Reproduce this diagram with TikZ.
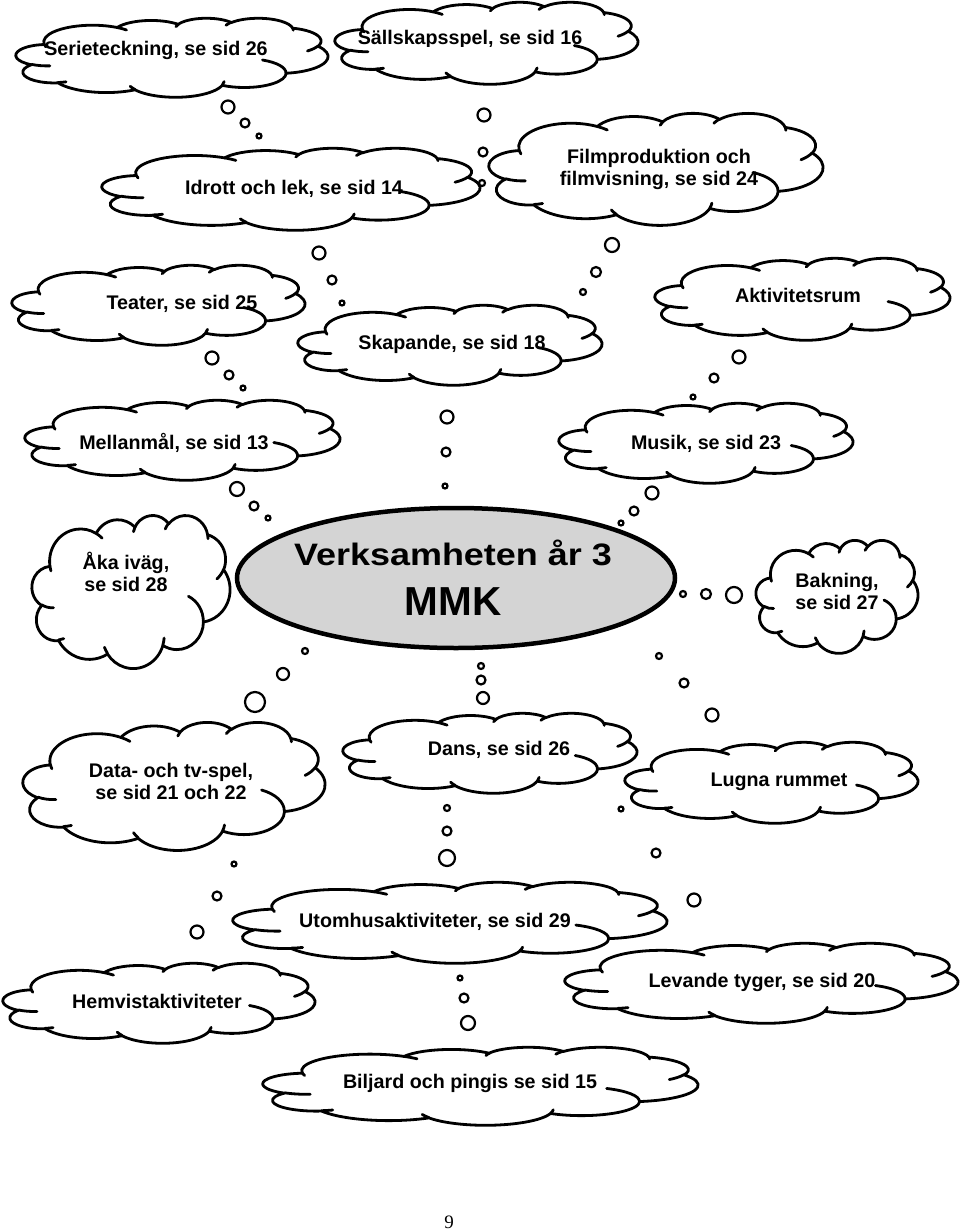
\documentclass[tikz,border=0pt]{standalone}
\usepackage{fontspec}
\setmainfont{Liberation Sans}
\newfontfamily\pagefont{Liberation Serif}
\usetikzlibrary{shapes.geometric}
\definecolor{ellfill}{RGB}{212,212,212}
% prepare an OOXML-style arc (visual angles -> parametric angles)
\newcommand\prep[5]{%
  \pgfmathsetmacro\tmpS{atan2(#2*sin(#4),#3*cos(#4))}%
  \pgfmathsetmacro\tmpE{atan2(#2*sin(#4+#5),#3*cos(#4+#5))}%
  \pgfmathsetmacro\tmpD{mod(\tmpE-\tmpS+720,360)}%
  \xdef#1{arc[x radius=#2, y radius=#3, start angle=\tmpS, delta angle=\tmpD]}}
\prep\CLa{6.753}{9.19}{-190.4875}{123.7805}
\prep\CLb{5.333}{7.267}{-144.1024}{89.9452}
\prep\CLc{4.365}{5.945}{-145.8079}{99.7230}
\prep\CLd{4.857}{6.595}{-130.9861}{117.2417}
\prep\CLe{5.333}{7.273}{-78.7089}{109.0269}
\prep\CLf{6.775}{9.22}{-46.2673}{130.2690}
\prep\CLg{5.785}{7.867}{0.6250}{114.0333}
\prep\CLh{6.752}{9.215}{22.4516}{115.1726}
\prep\CLi{7.72}{10.543}{66.2426}{75.7110}
\prep\CLj{4.36}{5.918}{-274.9421}{146.7356}
\prep\CLk{4.345}{5.945}{-246.8285}{152.5189}
\prep\TKa{4.345}{5.945}{86.742}{26.4295}
\prep\TKb{4.36}{5.918}{73.6105}{11.4475}
\prep\TKc{6.752}{9.215}{137.6242}{14.0811}
\prep\TKd{6.752}{9.215}{6.4533}{15.9984}
\prep\TKe{5.785}{7.867}{-70.2924}{70.9174}
\prep\TKf{5.333}{7.273}{30.318}{27.7515}
\prep\TKg{4.857}{6.595}{-13.7443}{14.8589}
\prep\TKh{4.857}{6.595}{-149.1815}{18.1954}
\prep\TKi{4.365}{5.945}{-163.4943}{17.6864}
\prep\TKj{6.753}{9.19}{-66.707}{12.3194}
\prep\TKk{6.753}{9.19}{157.6544}{11.8582}
% Word-style cloud: left, top, width, height (pixels)
\newcommand\wcloud[4]{%
  \pgfmathsetmacro\cwx{#3/43.2}\pgfmathsetmacro\cwy{#4/43.2}%
  \begin{scope}[shift={(#1,#2)},x=\cwx pt,y=-\cwy pt]
    \draw[cloudline,fill=white] (3.9,14.37) \CLa \CLb \CLc \CLd \CLe \CLf \CLg \CLh \CLi \CLj \CLk -- cycle;
    \draw[cloudline] (4.693,26.177) \TKa (6.928,34.899) \TKb (16.478,39.09) \TKc
      (28.827,34.751) \TKd (34.129,22.954) \TKe (41.798,15.354) \TKf
      (38.324,5.426) \TKg (29.078,3.952) \TKh (22.141,4.72) \TKi
      (14,5.192) \TKj (4.127,15.789) \TKk;
  \end{scope}}
\begin{document}
\begin{tikzpicture}[x=1pt,y=-1pt,
  cloudline/.style={line width=2.8pt,line cap=round,line join=round},
  bub/.style={circle,draw,line width=2.2pt,inner sep=0pt,outer sep=0pt,fill=white},
  lbl/.style={font=\fontsize{19.7}{22}\selectfont\bfseries,align=center,inner sep=0pt}]
\fill[white] (0,0) rectangle (960,1232);
\useasboundingbox (0,0) rectangle (960,1232);

% clouds
\wcloud{16}{18}{312}{79}
\wcloud{335}{2}{303}{82}
\wcloud{102}{148}{378}{82}
\wcloud{489}{113}{334}{112}
\wcloud{12}{265}{293}{80}
\wcloud{298}{305}{304}{80}
\wcloud{655}{258}{295}{82}
\wcloud{25}{400}{315}{80}
\wcloud{559}{403}{294}{80}
\wcloud{32}{515}{198}{153}
\wcloud{756}{540}{162}{113}
\wcloud{23}{722}{302}{128}
\wcloud{343}{713}{294}{80}
\wcloud{625}{742}{293}{81}
\wcloud{233}{882}{434}{81}
\wcloud{3}{963}{312}{80}
\wcloud{565}{943}{393}{80}
\wcloud{263}{1047}{435}{78}

% labels
\node[lbl,anchor=base] (serie) at (156,55) {Serieteckning, se sid 26};
\begin{scope}
  \clip (330,0) rectangle (640,46);
  \node[lbl,anchor=base] (sall) at (470,44) {Sällskapsspel, se sid 16};
\end{scope}
\node[lbl,anchor=base] (idrott) at (294,194) {Idrott och lek, se sid 14};
\node[lbl] (film) at (659,169) {Filmproduktion och\\filmvisning, se sid 24};
\node[lbl,anchor=base] (teater) at (182,309) {Teater, se sid 25};
\node[lbl,anchor=base] (skap) at (452,349) {Skapande, se sid 18};
\node[lbl,anchor=base] (aktiv) at (798,302) {Aktivitetsrum};
\node[lbl,anchor=base] (mellan) at (174,449) {Mellanmål, se sid 13};
\node[lbl,anchor=base] (musik) at (706,449) {Musik, se sid 23};
\node[lbl] (aka) at (126,572) {Åka iväg,\\se sid 28};
\node[lbl] (bak) at (837,591) {Bakning,\\se sid 27};
\node[lbl] (data) at (171,781) {Data- och tv-spel,\\se sid 21 och 22};
\node[lbl,anchor=base] (dans) at (499,755) {Dans, se sid 26};
\node[lbl,anchor=base] (lugna) at (779,786) {Lugna rummet};
\node[lbl,anchor=base] (utom) at (435,927) {Utomhusaktiviteter, se sid 29};
\node[lbl,anchor=base] (hemv) at (157,1008) {Hemvistaktiviteter};
\node[lbl,anchor=base] (lev) at (762,987) {Levande tyger, se sid 20};
\node[lbl,anchor=base] (bilj) at (470,1088) {Biljard och pingis se sid 15};

% central ellipse
\node[ellipse,draw,line width=4.5pt,fill=ellfill,minimum width=438pt,minimum height=140pt,inner sep=0pt] (mmk) at (456,578) {};
\node[anchor=base,inner sep=0pt,font=\bfseries\fontsize{31}{36}\selectfont] (mmka) at (453,565) {\scalebox{1.16}[1]{Verksamheten år 3}};
\node[anchor=base,inner sep=0pt,font=\bfseries\fontsize{40.5}{44}\selectfont] (mmkb) at (453,615) {MMK};

% thought bubbles
\foreach \x/\y/\r [count=\i] in {
  228/107/6.5, 245/123/4.5, 259/136/2.5,
  484/115/6.5, 483/152/4.5, 482/183/3,
  319/253/6.5, 332/280/4.5, 342/303/2.5,
  612/245/7, 596/272/5, 583/292/3,
  212/358/6.5, 229/375/4.5, 243/388/2.5,
  447/417/6.5, 446/452/4.5, 445/486/2.5,
  739/357/6.5, 714/378/4.5, 693/397/2.5,
  237/489/7, 254/506/4.5, 268/518/2.5,
  652/493/6.5, 634/511/4.5, 621/523/2.5,
  683/594/3, 706/594/5, 734/595/8,
  305/651/3, 283/674/6, 255/702/10,
  481/666/3, 481/680/4.5, 483/698/6,
  659/656/3, 684/683/4.5, 712/715/6.5,
  447/808/3, 447/831/4.5, 447/858/8,
  621/809/2.5, 656/853/4.5, 694/900/6.5,
  234/864/2.5, 217/896/4.5, 197/932/6.5,
  460/978/2.5, 464/998/4.5, 468/1023/7}
  \node[bub,minimum size=2*\r] (bub\i) at (\x,\y) {};

% page number
\node[inner sep=0pt,font=\pagefont\fontsize{19}{20}\selectfont] (page) at (449,1222) {9};
\end{tikzpicture}
\end{document}
